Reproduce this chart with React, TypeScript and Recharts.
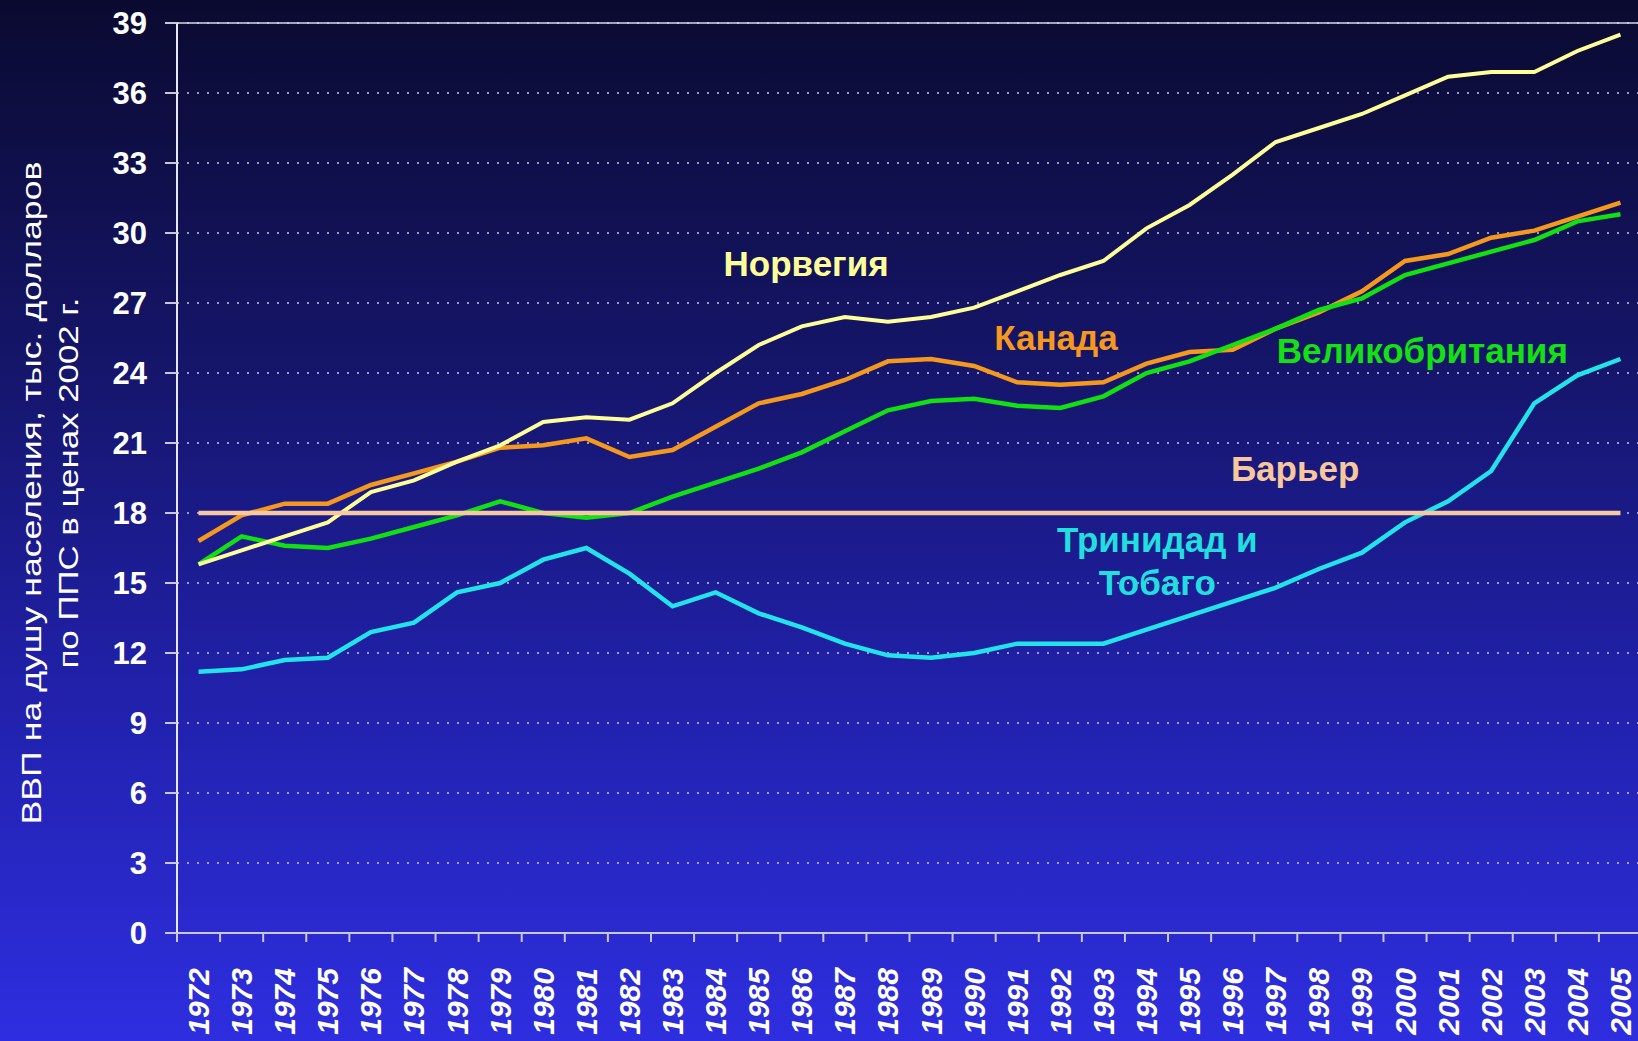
import React from 'react';
import {
  LineChart,
  Line,
  XAxis,
  YAxis,
  CartesianGrid,
  ReferenceLine,
  ReferenceDot,
} from 'recharts';

const years = [
  1972, 1973, 1974, 1975, 1976, 1977, 1978, 1979, 1980, 1981, 1982, 1983,
  1984, 1985, 1986, 1987, 1988, 1989, 1990, 1991, 1992, 1993, 1994, 1995,
  1996, 1997, 1998, 1999, 2000, 2001, 2002, 2003, 2004, 2005,
];

const norway = [
  15.8, 16.4, 17.0, 17.6, 18.9, 19.4, 20.2, 20.9, 21.9, 22.1, 22.0, 22.7,
  24.0, 25.2, 26.0, 26.4, 26.2, 26.4, 26.8, 27.5, 28.2, 28.8, 30.2, 31.2,
  32.5, 33.9, 34.5, 35.1, 35.9, 36.7, 36.9, 36.9, 37.8, 38.5,
];

const canada = [
  16.8, 17.9, 18.4, 18.4, 19.2, 19.7, 20.2, 20.8, 20.9, 21.2, 20.4, 20.7,
  21.7, 22.7, 23.1, 23.7, 24.5, 24.6, 24.3, 23.6, 23.5, 23.6, 24.4, 24.9,
  25.0, 25.9, 26.6, 27.5, 28.8, 29.1, 29.8, 30.1, 30.7, 31.3,
];

const uk = [
  15.8, 17.0, 16.6, 16.5, 16.9, 17.4, 17.9, 18.5, 18.0, 17.8, 18.0, 18.7,
  19.3, 19.9, 20.6, 21.5, 22.4, 22.8, 22.9, 22.6, 22.5, 23.0, 24.0, 24.5,
  25.2, 25.9, 26.7, 27.2, 28.2, 28.7, 29.2, 29.7, 30.5, 30.8,
];

const trinidad = [
  11.2, 11.3, 11.7, 11.8, 12.9, 13.3, 14.6, 15.0, 16.0, 16.5, 15.4, 14.0,
  14.6, 13.7, 13.1, 12.4, 11.9, 11.8, 12.0, 12.4, 12.4, 12.4, 13.0, 13.6,
  14.2, 14.8, 15.6, 16.3, 17.6, 18.5, 19.8, 22.7, 23.9, 24.6,
];

const BARRIER = 18;

const yTicks = [0, 3, 6, 9, 12, 15, 18, 21, 24, 27, 30, 33, 36, 39];

const titleLines = [
  'ВВП на душу населения, тыс. долларов',
  'по ППС в ценах 2002 г.',
];

const annotations = [
  { text: 'Норвегия', year: 1986.1, value: 28.7, color: '#ffff99' },
  { text: 'Канада', year: 1991.9, value: 25.5, color: '#f5991e' },
  { text: 'Великобритания', year: 2000.4, value: 24.95, color: '#14e014' },
  { text: 'Барьер', year: 1997.45, value: 19.9, color: '#f8c89c' },
  { text: 'Тринидад и', year: 1994.25, value: 16.85, color: '#22dede' },
  { text: 'Тобаго', year: 1994.25, value: 15.0, color: '#22dede' },
];

const data = years.map((year, i) => ({
  year,
  norway: norway[i],
  canada: canada[i],
  uk: uk[i],
  trinidad: trinidad[i],
}));

const FONT = '"Liberation Sans", Arial, Helvetica, sans-serif';
const CHART_W = 1650;
const CHART_H = 1041;
const MARGIN = { top: 23, right: 8, left: 97, bottom: 0 };
const Y_AXIS_W = 80;
const X_AXIS_H = 108;
const PLOT_W = CHART_W - MARGIN.left - MARGIN.right - Y_AXIS_W;
const HALF_BAND = PLOT_W / years.length / 2;
const AXIS_COLOR = '#c8c8d4';

function YearTick(props: any) {
  const { x, y, payload } = props;
  return (
    <g>
      <line
        x1={x - HALF_BAND}
        x2={x - HALF_BAND}
        y1={y}
        y2={y + 9}
        stroke={AXIS_COLOR}
        strokeWidth={2}
      />
      <text
        transform={`translate(${x},${y + 35}) rotate(-90)`}
        textAnchor="end"
        dominantBaseline="central"
        fill="#ffffff"
        fontSize={30}
        fontWeight="bold"
        fontStyle="italic"
        fontFamily={FONT}
      >
        {payload.value}
      </text>
    </g>
  );
}

function YTitle() {
  return (
    <g>
      <text
        transform="translate(31,493) rotate(-90)"
        textAnchor="middle"
        dominantBaseline="central"
        fill="#ffffff"
        fontSize={28}
        fontFamily={FONT}
        textLength={663}
        lengthAdjust="spacingAndGlyphs"
      >
        {titleLines[0]}
      </text>
      <text
        transform="translate(68,483) rotate(-90)"
        textAnchor="middle"
        dominantBaseline="central"
        fill="#ffffff"
        fontSize={28}
        fontFamily={FONT}
        textLength={371}
        lengthAdjust="spacingAndGlyphs"
      >
        {titleLines[1]}
      </text>
    </g>
  );
}

export default function App() {
  return (
    <div
      style={{
        position: 'absolute',
        left: 0,
        top: 0,
        width: 1638,
        height: 1041,
        overflow: 'hidden',
        background: 'linear-gradient(180deg, #0a0a30 0%, #15156a 35%, #2020a8 65%, #2e2ee0 100%)',
      }}
    >
      <LineChart width={CHART_W} height={CHART_H} data={data} margin={MARGIN}>
        <CartesianGrid
          vertical={false}
          stroke="#c8c8d8"
          strokeDasharray="2 8"
          strokeWidth={1.5}
        />
        <XAxis
          dataKey="year"
          type="number"
          domain={[1971.5, 2005.5]}
          ticks={years}
          interval={0}
          height={X_AXIS_H}
          tickLine={false}
          tickSize={0}
          tickMargin={0}
          axisLine={{ stroke: AXIS_COLOR, strokeWidth: 2 }}
          tick={<YearTick />}
        />
        <YAxis
          type="number"
          domain={[0, 39]}
          ticks={yTicks}
          interval={0}
          width={Y_AXIS_W}
          tickSize={12}
          tickMargin={18}
          tickLine={{ stroke: AXIS_COLOR, strokeWidth: 2 }}
          axisLine={{ stroke: '#e8e8f0', strokeWidth: 2 }}
          tick={{ fill: '#ffffff', fontSize: 31, fontWeight: 'bold', fontFamily: FONT }}
          label={{ content: <YTitle /> }}
        />
        <ReferenceLine y={39} stroke="#d8d8e4" strokeWidth={1.5} />
        <Line
          dataKey="canada"
          stroke="#f5991e"
          strokeWidth={4.5}
          dot={false}
          isAnimationActive={false}
        />
        <Line
          dataKey="uk"
          stroke="#11e011"
          strokeWidth={4.5}
          dot={false}
          isAnimationActive={false}
        />
        <Line
          dataKey="norway"
          stroke="#ffff99"
          strokeWidth={4}
          dot={false}
          isAnimationActive={false}
        />
        <Line
          dataKey="trinidad"
          stroke="#22e4e8"
          strokeWidth={4.5}
          dot={false}
          isAnimationActive={false}
        />
        <ReferenceLine
          segment={[
            { x: years[0], y: BARRIER },
            { x: years[years.length - 1], y: BARRIER },
          ]}
          stroke="#f8c8a0"
          strokeWidth={4.5}
        />
        {annotations.map((a) => (
          <ReferenceDot
            key={a.text}
            x={a.year}
            y={a.value}
            r={0}
            fill="none"
            stroke="none"
            label={{
              value: a.text,
              position: 'center',
              fill: a.color,
              fontSize: 35,
              fontWeight: 'bold',
              fontFamily: FONT,
            }}
          />
        ))}
      </LineChart>
    </div>
  );
}
